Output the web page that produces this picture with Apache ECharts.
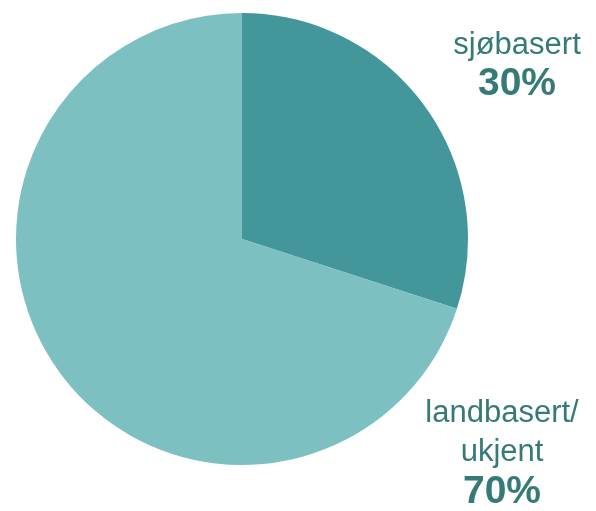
<!DOCTYPE html>
<html><head><meta charset="utf-8">
<script src="https://cdn.jsdelivr.net/npm/echarts@6/dist/echarts.min.js"></script>
<style>html,body{margin:0;padding:0;background:#fff}#c{width:596px;height:511px}</style>
</head><body><div id="c"></div>
<script>
var categories = ['sjøbasert', 'landbasert/\nukjent'];
var values = [30, 70];
var colors = ['#43979a', '#7cc0c1'];
var labelPos = [[517, 65], [502, 453]];

var chart = echarts.init(document.getElementById('c'), null, {renderer: 'canvas'});
chart.setOption({
  animation: false,
  series: [{
    type: 'pie',
    center: [242, 239],
    radius: [0, 226],
    startAngle: 90,
    clockwise: true,
    avoidLabelOverlap: false,
    data: categories.map(function (c, i) {
      return {name: c, value: values[i], itemStyle: {color: colors[i]}};
    }),
    label: {
      show: true,
      position: 'outside',
      alignTo: 'none',
      overflow: 'none',
      width: 300,
      formatter: function (p) {
        return p.name.split('\n').map(function (s) { return '{n|' + s + '}'; }).join('\n') + '\n{p|' + p.value + '%}';
      },
      rich: {
        n: {fontFamily: 'Liberation Sans, Arial, sans-serif', fontSize: 31, color: '#357a77', lineHeight: 39, align: 'center'},
        p: {fontFamily: 'Liberation Sans, Arial, sans-serif', fontSize: 39, fontWeight: 'bold', color: '#357a77', lineHeight: 40, align: 'center'}
      }
    },
    labelLine: {show: false},
    labelLayout: function (p) {
      return {x: labelPos[p.dataIndex][0], y: labelPos[p.dataIndex][1], align: 'center', verticalAlign: 'middle', hideOverlap: false};
    }
  }]
});
</script></body></html>
